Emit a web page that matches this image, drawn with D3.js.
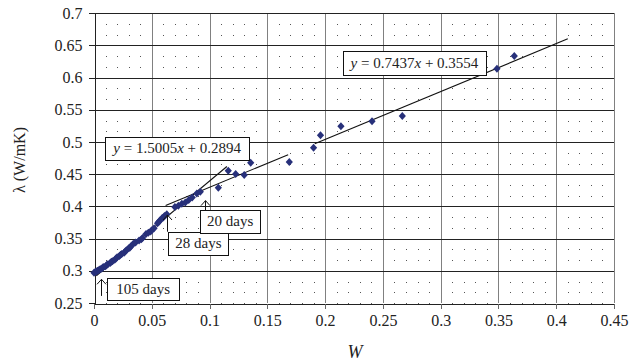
<!DOCTYPE html>
<html><head><meta charset="utf-8">
<script src="https://cdn.jsdelivr.net/npm/d3@7"></script>
<style>html,body{margin:0;padding:0;background:#fff}svg{display:block}
svg text{font-family:"Liberation Serif","Times New Roman",serif !important}</style>
</head><body>
<svg id="c" width="637" height="363"></svg>
<script>
// ---- data ----
const xTicks = [0, 0.05, 0.1, 0.15, 0.2, 0.25, 0.3, 0.35, 0.4, 0.45];
const yTicks = [0.25, 0.3, 0.35, 0.4, 0.45, 0.5, 0.55, 0.6, 0.65, 0.7];
const xTickLabels = ["0","0.05","0.1","0.15","0.2","0.25","0.3","0.35","0.4","0.45"];
const yTickLabels = ["0.25","0.3","0.35","0.4","0.45","0.5","0.55","0.6","0.65","0.7"];
const W = [0,0.001,0.002,0.003,0.004,0.005,0.006,0.007,0.008,0.010,0.011,0.012,0.014,0.015,0.016,0.018,0.019,0.020,0.022,0.023,0.024,0.026,0.027,0.028,0.030,0.031,0.032,0.034,0.036,0.039,0.041,0.042,0.045,0.047,0.049,0.050,0.052,0.055,0.056,0.057,0.059,0.060,0.061,0.063,0.070,0.073,0.076,0.079,0.082,0.085,0.089,0.092,
  0.1076,0.1162,0.1226,0.130,0.1356,0.169,0.190,0.196,0.2137,0.2406,0.2668,0.3487,0.3637];
const lambda = [0.297,0.298,0.299,0.300,0.301,0.302,0.303,0.304,0.306,0.307,0.309,0.310,0.312,0.314,0.315,0.317,0.319,0.321,0.323,0.325,0.326,0.328,0.330,0.332,0.335,0.336,0.338,0.342,0.344,0.347,0.349,0.351,0.357,0.359,0.361,0.363,0.366,0.374,0.376,0.378,0.382,0.383,0.385,0.388,0.399,0.401,0.404,0.406,0.410,0.414,0.420,0.423,
  0.429,0.4555,0.4504,0.4488,0.468,0.469,0.4912,0.5105,0.5245,0.5322,0.5405,0.614,0.6337];
// trendlines: slope, intercept, x-range
const fitSlopes = [1.5005, 0.7437, 0.7437];
const fitIntercepts = [0.2894, 0.3554, 0.3554];
const fitFrom = [0.002, 0.062, 0.191];
const fitTo = [0.115, 0.168, 0.41];
// equation boxes: label, x0, x1, y0(top), y1(bottom)
const eqLabels = [["1.5005","0.2894"],["0.7437","0.3554"]];
const eqX0 = [0.0095, 0.2154];
const eqX1 = [0.1344, 0.3393];
const eqY0 = [0.508, 0.642];
const eqY1 = [0.473, 0.6046];
// day annotations
const dayLabels = ["105 days","28 days","20 days"];
const dayBoxX0 = [0.0115, 0.0644, 0.0917];
const dayBoxX1 = [0.0736, 0.1163, 0.1439];
const dayBoxY0 = [0.2884, 0.3607, 0.3944];
const dayBoxY1 = [0.2547, 0.3246, 0.3592];
const arrowX = [0.0058, 0.063, 0.096];
const arrowTip = [0.2868, 0.3867, 0.409];
const arrowBase = [0.261, 0.3607, 0.3944];

// ---- chart ----
const svg = d3.select("#c");
const x = d3.scaleLinear().domain([0,0.45]).range([94,614]);
const y = d3.scaleLinear().domain([0.25,0.7]).range([303,13.3]);
const serif = "Liberation Serif";

// minor dots
const dots = svg.append("g").attr("fill","#555");
for (let i=1;i<45;i++){
  if (i%5===0) continue;
  const xv = i*0.01;
  for (let j=0;j<=27;j++){
    const yv = 0.25 + j*0.05/3;
    dots.append("rect").attr("x",Math.round(x(xv))).attr("y",Math.round(y(yv))).attr("width",1).attr("height",1);
  }
}
// major grid
const g = svg.append("g").attr("shape-rendering","crispEdges");
g.selectAll(".vg").data(xTicks.slice(1)).join("line")
  .attr("x1",d=>Math.round(x(d))+0.5).attr("x2",d=>Math.round(x(d))+0.5)
  .attr("y1",y(0.7)).attr("y2",y(0.25)).attr("stroke","#808080").attr("stroke-width",1);
g.selectAll(".hg").data(yTicks.slice(1)).join("line")
  .attr("x1",x(0)).attr("x2",x(0.45))
  .attr("y1",d=>Math.round(y(d))+0.5).attr("y2",d=>Math.round(y(d))+0.5)
  .attr("stroke","#222").attr("stroke-width",1);

// axes
const xAxis = d3.axisBottom(x).tickValues(xTicks).tickFormat((d,i)=>xTickLabels[i]).tickSize(5).tickPadding(6);
const yAxis = d3.axisLeft(y).tickValues(yTicks).tickFormat((d,i)=>yTickLabels[i]).tickSize(6).tickPadding(6);
const ax = svg.append("g").attr("transform",`translate(0,${Math.round(y(0.25))+0.5})`).call(xAxis);
const ay = svg.append("g").attr("transform",`translate(${Math.round(x(0))+0.5},0)`).call(yAxis);
[ax,ay].forEach(a=>{
  a.attr("shape-rendering","crispEdges").attr("font-family",serif).attr("font-size",16);
  a.select(".domain").attr("stroke","#222");
  a.selectAll(".tick line").attr("stroke","#222");
  a.selectAll("text").attr("fill","#222");
});
ax.selectAll(".tick line").attr("stroke","#666");

// axis titles
svg.append("text").attr("x",355).attr("y",358).attr("text-anchor","middle")
  .attr("font-family",serif).attr("font-size",18).attr("font-style","italic").attr("fill","#222").text("W");
svg.append("text").attr("transform","translate(25,160) rotate(-90)").attr("text-anchor","middle")
  .attr("font-family",serif).attr("font-size",16).attr("fill","#222").text("λ (W/mK)");

// trendlines
svg.append("g").selectAll("line").data(fitSlopes).join("line")
  .attr("x1",(d,i)=>x(fitFrom[i])).attr("y1",(d,i)=>y(fitIntercepts[i]+d*fitFrom[i]))
  .attr("x2",(d,i)=>x(fitTo[i])).attr("y2",(d,i)=>y(fitIntercepts[i]+d*fitTo[i]))
  .attr("stroke","#111").attr("stroke-width",1.1);

// points
const diamond = "M0,-4L3.6,0L0,4L-3.6,0Z";
svg.append("g").selectAll("path").data(W).join("path")
  .attr("d",diamond).attr("transform",(d,i)=>`translate(${x(d)},${y(lambda[i])})`)
  .attr("fill","#27307a");

// equation boxes
eqLabels.forEach((lab,i)=>{
  const x0=x(eqX0[i]), x1=x(eqX1[i]), y0=y(eqY0[i]), y1=y(eqY1[i]);
  svg.append("rect").attr("x",Math.round(x0)+0.5).attr("y",Math.round(y0)+0.5)
    .attr("width",Math.round(x1-x0)).attr("height",Math.round(y1-y0))
    .attr("fill","#fff").attr("stroke","#111").attr("stroke-width",1);
  const t = svg.append("text").attr("x",(x0+x1)/2).attr("y",(y0+y1)/2+5).attr("text-anchor","middle")
    .attr("font-family",serif).attr("font-size",15).attr("fill","#222");
  t.append("tspan").attr("font-style","italic").text("y");
  t.append("tspan").text(" = "+lab[0]);
  t.append("tspan").attr("font-style","italic").text("x");
  t.append("tspan").text(" + "+lab[1]);
});

// day annotations
dayLabels.forEach((lab,i)=>{
  const x0=x(dayBoxX0[i]), x1=x(dayBoxX1[i]), y0=y(dayBoxY0[i]), y1=y(dayBoxY1[i]);
  const ax0 = Math.round(x(arrowX[i]))+0.5, tip=y(arrowTip[i]), base=y(arrowBase[i]);
  svg.append("line").attr("x1",ax0).attr("x2",ax0).attr("y1",tip).attr("y2",base).attr("stroke","#111").attr("stroke-width",1);
  svg.append("path").attr("d",`M${ax0-4.5},${tip+5}L${ax0},${tip}L${ax0+4.5},${tip+5}`)
    .attr("fill","none").attr("stroke","#111").attr("stroke-width",1);
  svg.append("rect").attr("x",Math.round(x0)+0.5).attr("y",Math.round(y0)+0.5)
    .attr("width",Math.round(x1-x0)).attr("height",Math.round(y1-y0))
    .attr("fill","#fff").attr("stroke","#111").attr("stroke-width",1);
  svg.append("text").attr("x",(x0+x1)/2).attr("y",(y0+y1)/2+5).attr("text-anchor","middle")
    .attr("font-family",serif).attr("font-size",15).attr("fill","#222").text(lab);
});
</script>
</body></html>
